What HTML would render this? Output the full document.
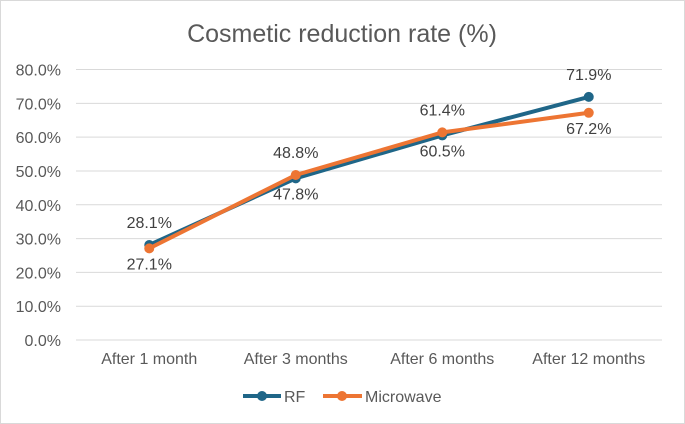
<!DOCTYPE html>
<html><head><meta charset="utf-8"><style>
body{margin:0;background:#fff}
svg{display:block;font-family:"Liberation Sans",Arial,sans-serif}
</style></head><body>
<svg width="685" height="424" viewBox="0 0 685 424">
<rect x="0.5" y="0.5" width="684" height="423" fill="#fff" stroke="#d9d9d9"/>
<text x="342" y="42" text-anchor="middle" font-size="25" fill="#595959">Cosmetic reduction rate (%)</text>
<g id="grid"></g><g id="xlab"></g><g id="series"></g>
<g>
<g>
<line x1="243" y1="396" x2="281" y2="396" stroke="#1f6688" stroke-width="4"/><circle cx="262" cy="396" r="5" fill="#1f6688"/>
<text x="284" y="402" font-size="16" fill="#595959">RF</text></g>
<g>
<line x1="323" y1="396" x2="362" y2="396" stroke="#ed7533" stroke-width="4"/><circle cx="342" cy="396" r="5" fill="#ed7533"/>
<text x="365" y="402" font-size="16" fill="#595959">Microwave</text></g>
</g>
</svg>
<script>
const categories=["After 1 month","After 3 months","After 6 months","After 12 months"];
const rfValues=[28.1,47.8,60.5,71.9];
const mwValues=[27.1,48.8,61.4,67.2];
const yTicks=[0,10,20,30,40,50,60,70,80];
const ns="http://www.w3.org/2000/svg";
const x0=76,x1=662,y0=340,yTop=69.5;
const xs=i=>x0+(x1-x0)/categories.length*(i+0.5);
const ys=v=>y0-(y0-yTop)*v/80;
function mk(t,a,p){const e=document.createElementNS(ns,t);for(const k in a)e.setAttribute(k,a[k]);p.appendChild(e);return e;}
const grid=document.getElementById('grid');
yTicks.forEach(v=>{
 const l=mk('line',{x1:x0,x2:x1,y1:ys(v),y2:ys(v),stroke:'#d9d9d9','stroke-width':1},grid);
 
 
 const t=mk('text',{x:61,y:ys(v)+6,'text-anchor':'end','font-size':16,fill:'#595959'},grid);
 t.textContent=v.toFixed(1)+'%';
 
 
});
const xl=document.getElementById('xlab');
categories.forEach((c,i)=>{
 const t=mk('text',{x:xs(i),y:364,'text-anchor':'middle','font-size':16,fill:'#595959'},xl);
 t.textContent=c;
 
 
});
const sg=document.getElementById('series');
function draw(vals,other,color,name){
 const g=mk('g',{},sg);
 
 
 const pl=mk('polyline',{points:vals.map((v,i)=>xs(i)+','+ys(v)).join(' '),fill:'none',stroke:color,'stroke-width':4,'stroke-linejoin':'round'},g);
 
 
 vals.forEach((v,i)=>{
  const c=mk('circle',{cx:xs(i),cy:ys(v),r:5,fill:color},g);
  
  
  const above=v>=other[i];
  const t=mk('text',{x:xs(i),y:above?ys(v)-17:ys(v)+21,'text-anchor':'middle','font-size':16,fill:'#404040'},g);
  t.textContent=v.toFixed(1)+'%';
  
  
 });
}
draw(rfValues,mwValues,'#1f6688','rf-series');
draw(mwValues,rfValues,'#ed7533','microwave-series');
</script>
</body></html>
